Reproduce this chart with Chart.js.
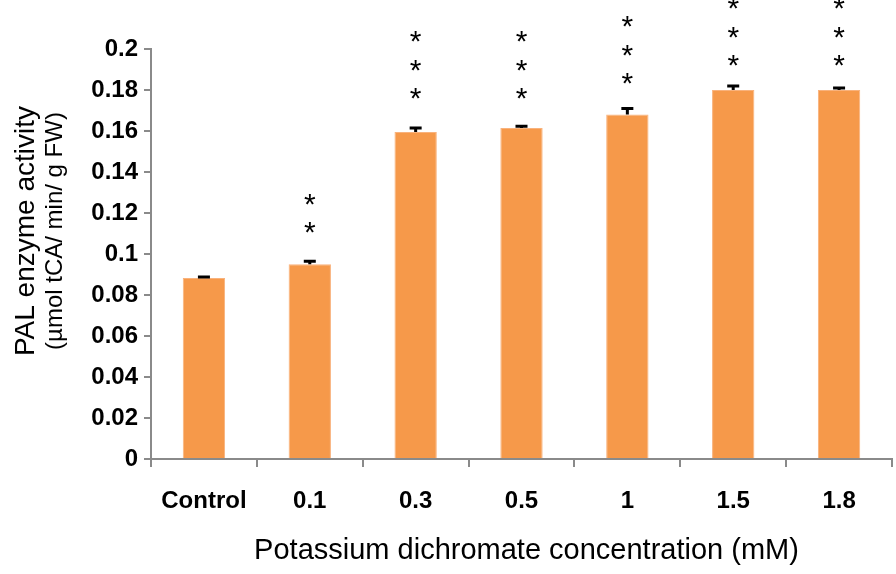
<!DOCTYPE html>
<html>
<head>
<meta charset="utf-8">
<script src="https://cdn.jsdelivr.net/npm/chart.js@4.4.0/dist/chart.umd.min.js"></script>
<style>
  html, body { margin: 0; padding: 0; background: #fff; }
  #wrap { width: 896px; height: 574px; position: relative; }
</style>
</head>
<body>
<div id="wrap"><canvas id="palChart"></canvas></div>
<script>
// Data
const categories = ['Control', '0.1', '0.3', '0.5', '1', '1.5', '1.8'];
const palValues = [0.0883, 0.095, 0.1595, 0.1615, 0.168, 0.18, 0.18];
const palErrors = [0.0005, 0.0015, 0.002, 0.0008, 0.003, 0.002, 0.001];
const starCounts = [0, 2, 3, 3, 3, 3, 3];
// value at which the lowest asterisk sits, per category
const starBase = [null, 0.1117, 0.177, 0.177, 0.1844, 0.1932, 0.1932];
const starStep = 0.0139;
const yTickLabels = ['0', '0.02', '0.04', '0.06', '0.08', '0.1', '0.12', '0.14', '0.16', '0.18', '0.2'];

const axisGray = '#8a8a8a';

// error bars, asterisks and axis titles
const extrasPlugin = {
  id: 'extras',
  afterDatasetsDraw(chart) {
    const ctx = chart.ctx;
    const meta = chart.getDatasetMeta(0);
    const y = chart.scales.y;
    ctx.save();
    ctx.strokeStyle = '#000';
    ctx.lineWidth = 3;
    meta.data.forEach((bar, i) => {
      const top = y.getPixelForValue(palValues[i] + palErrors[i]);
      const base = y.getPixelForValue(palValues[i]);
      ctx.beginPath();
      ctx.moveTo(bar.x, base);
      ctx.lineTo(bar.x, top);
      ctx.moveTo(bar.x - 6, top);
      ctx.lineTo(bar.x + 6, top);
      ctx.stroke();

      ctx.fillStyle = '#000';
      ctx.font = '30px "Liberation Sans", Arial, sans-serif';
      ctx.textAlign = 'center';
      ctx.textBaseline = 'alphabetic';
      for (let s = 0; s < starCounts[i]; s++) {
        const cy = y.getPixelForValue(starBase[i] + s * starStep);
        ctx.fillText('*', bar.x, cy + 0.575 * 30 - 5);
      }
    });
    ctx.restore();
  },
  afterDraw(chart) {
    const ctx = chart.ctx;
    const area = chart.chartArea;
    ctx.save();
    ctx.fillStyle = '#000';
    ctx.textAlign = 'center';
    ctx.textBaseline = 'middle';
    ctx.font = '29px "Liberation Sans", Arial, sans-serif';
    ctx.fillText('Potassium dichromate concentration (mM)', (area.left + area.right) / 2 + 5, 551);

    const midY = 231;
    ctx.translate(26, midY);
    ctx.rotate(-Math.PI / 2);
    ctx.font = '28px "Liberation Sans", Arial, sans-serif';
    ctx.fillText('PAL enzyme activity', 0, 0);
    ctx.font = '24px "Liberation Sans", Arial, sans-serif';
    ctx.fillText('(\u00b5mol tCA/ min/ g FW)', 0, 29);
    ctx.restore();
  }
};

new Chart(document.getElementById('palChart'), {
  type: 'bar',
  data: {
    labels: categories,
    datasets: [{
      data: palValues,
      backgroundColor: '#f6994a',
      borderColor: '#f9b27c',
      borderWidth: 1,
      barPercentage: 0.4,
      categoryPercentage: 1
    }]
  },
  options: {
    responsive: true,
    maintainAspectRatio: false,
    animation: false,
    layout: { padding: { top: 49, right: 4, left: 0, bottom: 0 } },
    plugins: {
      legend: { display: false },
      tooltip: { enabled: false }
    },
    scales: {
      x: {
        afterFit(scale) { scale.height = 115; },
        grid: {
          offset: true,
          drawOnChartArea: false,
          drawTicks: true,
          tickLength: 8,
          color: axisGray,
          lineWidth: 2
        },
        border: { color: axisGray, width: 2 },
        ticks: {
          padding: 20,
          color: '#000',
          font: { family: '"Liberation Sans", Arial, sans-serif', size: 24, weight: 'bold' }
        }
      },
      y: {
        min: 0,
        max: 0.2,
        afterFit(scale) { scale.width = 151; },
        grid: {
          drawOnChartArea: false,
          drawTicks: true,
          tickLength: 7,
          color: axisGray,
          lineWidth: 2
        },
        border: { color: axisGray, width: 2 },
        ticks: {
          stepSize: 0.02,
          padding: 6,
          color: '#000',
          font: { family: '"Liberation Sans", Arial, sans-serif', size: 24, weight: 'bold' },
          callback: (v, i) => yTickLabels[i]
        }
      }
    }
  },
  plugins: [extrasPlugin]
});
</script>
</body>
</html>
